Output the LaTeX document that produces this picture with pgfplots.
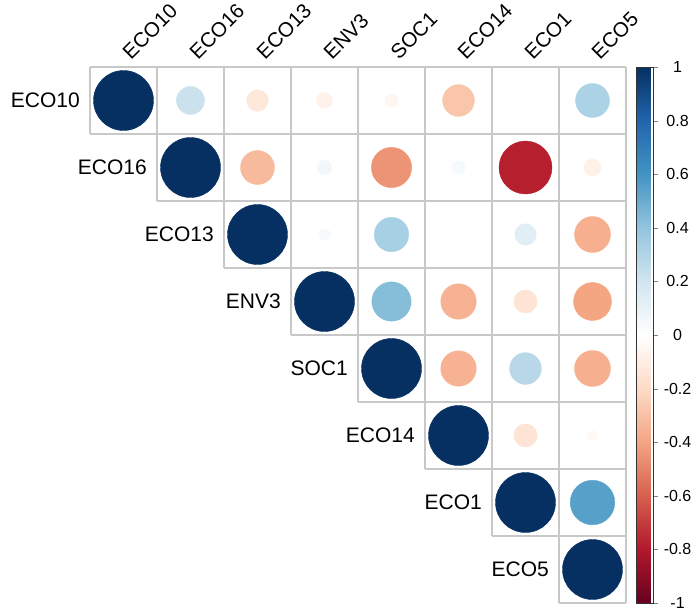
\documentclass[border=0pt]{standalone}
\usepackage{pgfplots}
\pgfplotsset{compat=1.18}
\usepackage{pgfplotstable}
\usepackage{fontspec}
\setmainfont{Liberation Sans}
\pgfplotstableread{
x y r
1 1 1
2 1 0.22
3 1 -0.13
4 1 -0.07
5 1 -0.05
6 1 -0.28
7 1 0.0
8 1 0.32
2 2 1
3 2 -0.32
4 2 0.06
5 2 -0.45
6 2 0.05
7 2 -0.78
8 2 -0.08
3 3 1
4 3 0.04
5 3 0.33
6 3 0.005
7 3 0.13
8 3 -0.36
4 4 1
5 4 0.43
6 4 -0.35
7 4 -0.15
8 4 -0.40
5 5 1
6 5 -0.35
7 5 0.28
8 5 -0.36
6 6 1
7 6 -0.15
8 6 -0.03
7 7 1
8 7 0.55
8 8 1
}\corrdata
\pgfplotsset{colormap={corrRdBu}{rgb255=(103,0,31) rgb255=(178,24,43) rgb255=(214,96,77) rgb255=(244,165,130) rgb255=(253,219,199) rgb255=(255,255,255) rgb255=(209,229,240) rgb255=(146,197,222) rgb255=(67,147,195) rgb255=(33,102,172) rgb255=(5,48,97)}}
\definecolor{gridgray}{RGB}{200,200,200}
\begin{document}
\begin{tikzpicture}
\path[use as bounding box] (0,0) rectangle (692pt,-613pt);
\begin{axis}[
  at={(90pt,-67pt)}, anchor=north west,
  width=536pt, height=536pt, scale only axis,
  xmin=0.5, xmax=8.5, ymin=0.5, ymax=8.5, y dir=reverse,
  clip=false,
  axis line style={draw=none},
  major tick length=0pt,
  xtick={1,...,8},
  xticklabels={ECO10,ECO16,ECO13,ENV3,SOC1,ECO14,ECO1,ECO5},
  xticklabel pos=right,
  xticklabel style={rotate=45, anchor=south west, inner sep=1pt, font=\fontsize{20.5}{23}\selectfont, xshift=9pt, yshift=-2pt},
  ytick=\empty,
  colormap name=corrRdBu,
  point meta min=-1, point meta max=1,
  colorbar right,
  colorbar style={
    at={(parent axis.north east)}, anchor=north west, xshift=2pt,
    width=17pt,
    ytick={-1,-0.8,-0.6,-0.4,-0.2,0,0.2,0.4,0.6,0.8,1},
    ytick pos=right,
    tick align=outside,
    major tick length=4pt,
    axis line style={draw=black!80, line width=0.8pt},
    yticklabel style={
      /pgf/number format/fixed, /pgf/number format/precision=1,
      /pgf/number format/assume math mode=true,
      font=\fontsize{16}{18}\selectfont,
      anchor=center, inner sep=0pt, xshift=20pt},
  },
]
\draw[gridgray, line width=1.2pt]
  (axis cs:0.5,0.5) -- (axis cs:8.5,0.5)
  (axis cs:0.5,1.5) -- (axis cs:8.5,1.5)
  (axis cs:1.5,2.5) -- (axis cs:8.5,2.5)
  (axis cs:2.5,3.5) -- (axis cs:8.5,3.5)
  (axis cs:3.5,4.5) -- (axis cs:8.5,4.5)
  (axis cs:4.5,5.5) -- (axis cs:8.5,5.5)
  (axis cs:5.5,6.5) -- (axis cs:8.5,6.5)
  (axis cs:6.5,7.5) -- (axis cs:8.5,7.5)
  (axis cs:7.5,8.5) -- (axis cs:8.5,8.5)
  (axis cs:0.5,0.5) -- (axis cs:0.5,1.5)
  (axis cs:1.5,0.5) -- (axis cs:1.5,2.5)
  (axis cs:2.5,0.5) -- (axis cs:2.5,3.5)
  (axis cs:3.5,0.5) -- (axis cs:3.5,4.5)
  (axis cs:4.5,0.5) -- (axis cs:4.5,5.5)
  (axis cs:5.5,0.5) -- (axis cs:5.5,6.5)
  (axis cs:6.5,0.5) -- (axis cs:6.5,7.5)
  (axis cs:7.5,0.5) -- (axis cs:7.5,8.5)
  (axis cs:8.5,0.5) -- (axis cs:8.5,8.5);
\addplot[scatter, only marks, mark=*, point meta=explicit,
  scatter/use mapped color={draw=mapped color, fill=mapped color},
  visualization depends on={30*sqrt(abs(\thisrow{r})) \as \msize},
  scatter/@pre marker code/.append style={/tikz/mark size=\msize pt}]
  table[x=x, y=y, meta=r] {\corrdata};
\begin{scope}[every node/.style={anchor=east, inner sep=0pt, font=\fontsize{21}{24}\selectfont}]
\node at (axis cs:0.5,1) [xshift=-10pt] {ECO10};
\node at (axis cs:1.5,2) [xshift=-10pt] {ECO16};
\node at (axis cs:2.5,3) [xshift=-10pt] {ECO13};
\node at (axis cs:3.5,4) [xshift=-10pt] {ENV3};
\node at (axis cs:4.5,5) [xshift=-10pt] {SOC1};
\node at (axis cs:5.5,6) [xshift=-10pt] {ECO14};
\node at (axis cs:6.5,7) [xshift=-10pt] {ECO1};
\node at (axis cs:7.5,8) [xshift=-10pt] {ECO5};
\end{scope}
\end{axis}
\end{tikzpicture}
\end{document}
